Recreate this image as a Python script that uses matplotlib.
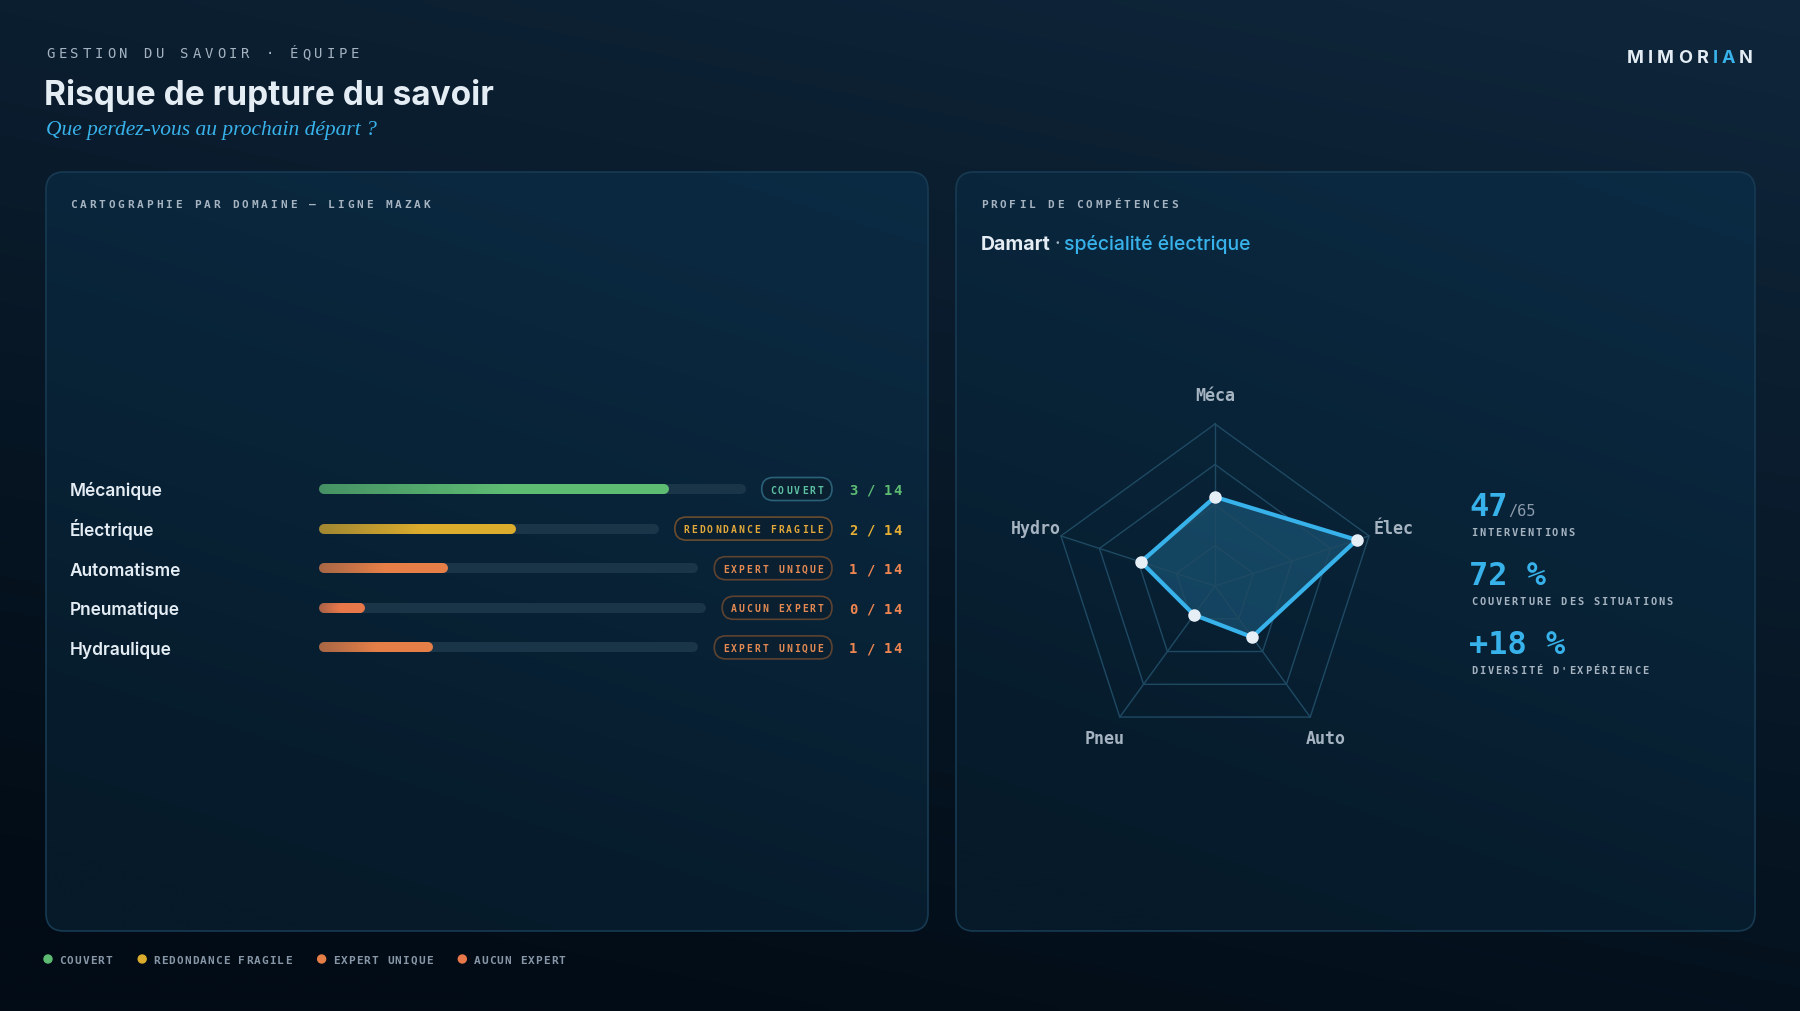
import numpy as np
import matplotlib.pyplot as plt
from matplotlib.patches import FancyBboxPatch, Circle
from matplotlib.collections import LineCollection
from matplotlib.colors import to_rgb
from matplotlib.font_manager import FontProperties

# ---- data ----
domains = ['Mécanique', 'Électrique', 'Automatisme', 'Pneumatique', 'Hydraulique']
coverage = [82, 58, 34, 12, 30]          # remplissage de la barre (%)
experts = [3, 2, 1, 0, 1]
team_size = 14
status = ['COUVERT', 'REDONDANCE FRAGILE', 'EXPERT UNIQUE', 'AUCUN EXPERT', 'EXPERT UNIQUE']

radar_axes = ['Méca', 'Élec', 'Auto', 'Pneu', 'Hydro']
profile = [55, 92, 39, 22, 48]
radar_levels = [25, 50, 75, 100]

interventions = 47
interventions_total = 65
situations_pct = 72
diversity_pct = 18

legend_order = ['COUVERT', 'REDONDANCE FRAGILE', 'EXPERT UNIQUE', 'AUCUN EXPERT']

# ---- styles ----
bar_color = {'COUVERT': '#5dbb72', 'REDONDANCE FRAGILE': '#dcac2c',
             'EXPERT UNIQUE': '#e67f47', 'AUCUN EXPERT': '#e8784a'}
value_color = {'COUVERT': '#5dbb72', 'REDONDANCE FRAGILE': '#e6ae35',
               'EXPERT UNIQUE': '#ef8550', 'AUCUN EXPERT': '#ef8550'}
badge_text = {'COUVERT': '#5cc0a2', 'REDONDANCE FRAGILE': '#e2a83a',
              'EXPERT UNIQUE': '#e48a52', 'AUCUN EXPERT': '#e48a52'}
badge_edge = {'COUVERT': '#2b6178', 'REDONDANCE FRAGILE': '#6a4c2e',
              'EXPERT UNIQUE': '#5e4330', 'AUCUN EXPERT': '#5e4330'}
BLUE = '#38b2ea'
GREY = '#a6b4c2'
WHITE = '#e4ecf4'
TRACK = '#1a3448'
MONO = 'DejaVu Sans Mono'
SANS = 'Inter'

W, H = 1800, 1012
fig = plt.figure(figsize=(18, 10.12), dpi=100)
bg = fig.add_axes([0, 0, 1, 1])
renderer = fig.canvas.get_renderer()


def gradient(extent, c_light, c_dark, clip=None, z=0):
    yy, xx = np.mgrid[0:1:120j, 0:1:200j]
    t = np.clip(yy * 0.8 + (1 - xx) * 0.3, 0, 1)[..., None]
    img = np.array(to_rgb(c_light)) * (1 - t) + np.array(to_rgb(c_dark)) * t
    im = bg.imshow(img, extent=extent, aspect='auto', interpolation='bicubic', zorder=z)
    if clip is not None:
        im.set_clip_path(clip)


def mono(x, y, s, fs, step, color, ha='left', weight='bold', va='baseline'):
    adv = 0.602 * fs * 100 / 72
    width = (len(s) - 1) * step + adv
    if ha == 'center':
        x -= width / 2
    elif ha == 'right':
        x -= width
    for i, ch in enumerate(s):
        bg.text(x + i * step, y, ch, fontsize=fs, family=MONO, color=color,
                ha='left', va=va, weight=weight, zorder=4)
    return width


# background
gradient((0, W, H, 0), '#0f263b', '#020c16')

# header
mono(46, 58, 'GESTION DU SAVOIR · ÉQUIPE', 10, 12.2, GREY, weight='normal')
bg.text(44, 105, 'Risque de rupture du savoir', fontsize=24, family=SANS, weight='bold',
        color=WHITE, va='baseline', zorder=4)
bg.text(46, 135, 'Que perdez-vous au prochain départ ?', fontsize=15.5, family='Liberation Serif',
        style='italic', color=BLUE, va='baseline', zorder=4)

# logo with tracking
logo = 'MIMORIAN'
fp = FontProperties(family=SANS, weight='bold', size=13)
widths = [renderer.get_text_width_height_descent(c, fp, ismath=False)[0] for c in logo]
track = (126 - sum(widths)) / (len(logo) - 1)
x = 1627
for i, c in enumerate(logo):
    bg.text(x, 63, c, fontproperties=fp, color=BLUE if i in (5, 6) else WHITE,
            va='baseline', zorder=4)
    x += widths[i] + track


# panels
def panel(x0, y0, x1, y1):
    p = FancyBboxPatch((x0, y0), x1 - x0, y1 - y0, boxstyle='round,pad=0,rounding_size=18',
                       facecolor='none', edgecolor='#173a52', lw=1.2, zorder=2)
    bg.add_patch(p)
    gradient((x0, x1, y1, y0), '#0b2b44', '#061a29', clip=p, z=1)


panel(46, 173, 928, 932)
panel(956, 173, 1755, 932)

mono(70, 208, 'CARTOGRAPHIE PAR DOMAINE — LIGNE MAZAK', 8, 9.55, GREY)
mono(981, 208, 'PROFIL DE COMPÉTENCES', 8, 9.5, GREY)

t1 = bg.text(981, 250, 'Damart', fontsize=14, family=SANS, weight='bold', color=WHITE,
             va='baseline', zorder=4)
w1 = t1.get_window_extent(renderer).width
t2 = bg.text(981 + w1 + 4, 250, '·', fontsize=14, family=SANS, color=GREY, va='baseline', zorder=4)
w2 = t2.get_window_extent(renderer).width
bg.text(981 + w1 + w2 + 8, 250, 'spécialité électrique', fontsize=14, family=SANS,
        weight='medium', color=BLUE, va='baseline', zorder=4)

# ---- domain rows ----
row_y0, row_gap = 490, 39.6
bar_x0, badge_right = 319, 832
badge_step = 7.9
for i, dom in enumerate(domains):
    yc = row_y0 + i * row_gap
    st = status[i]
    bg.text(70, yc + 6.5, dom, fontsize=12.5, family=SANS, weight='semibold', color=WHITE,
            va='baseline', zorder=4)

    bw = 15 + badge_step * len(st)
    bx = badge_right - bw
    badge = FancyBboxPatch((bx, yc - 11.5), bw, 23, boxstyle='round,pad=0,rounding_size=11.5',
                           facecolor='#0a1f30', edgecolor=badge_edge[st], lw=1.2, zorder=3)
    bg.add_patch(badge)
    mono(bx + bw / 2, yc + 3.6, st, 7, badge_step, badge_text[st], ha='center')
    mono(849, yc + 5, f'{experts[i]} / {team_size}', 10, 8.8, value_color[st])

    # bar axes spanning the track
    track_end = bx - 16
    track_len = track_end - bar_x0
    ax = fig.add_axes([bar_x0 / W, (H - yc - 10) / H, track_len / W, 20 / H])
    ax.set_xlim(0, 100)
    ax.set_ylim(-1, 1)
    ax.axis('off')
    pad = 5 / track_len * 100
    ax.plot([pad, 100 - pad], [0, 0], color=TRACK, lw=7.2, solid_capstyle='round')
    xs = np.linspace(pad, max(coverage[i] - pad, pad + 0.1), 60)
    segs = [[(xs[k], 0), (xs[k + 1], 0)] for k in range(len(xs) - 1)]
    frac = np.clip(np.linspace(0, 1, len(segs)) / 0.55, 0, 1)
    base = np.array(to_rgb(bar_color[st]))
    dark = base * 0.72 + np.array(to_rgb('#0c2a40')) * 0.28
    cols = [dark * (1 - f) + base * f for f in frac]
    lc = LineCollection(segs, colors=cols, linewidths=7.2, capstyle='round')
    ax.add_collection(lc)

# ---- radar ----
cx, cy, R = 1215, 587, 162
rax = fig.add_axes([(cx - R) / W, (H - cy - R) / H, 2 * R / W, 2 * R / H], projection='polar')
rax.set_theta_offset(np.pi / 2)
rax.set_theta_direction(-1)
rax.set_ylim(0, 100)
rax.axis('off')
theta = np.linspace(0, 2 * np.pi, len(radar_axes), endpoint=False)
th_c = np.append(theta, theta[0])
for lvl in radar_levels:
    rax.plot(th_c, [lvl] * len(th_c), color='#1f4a63', lw=1, clip_on=False)
for t in theta:
    rax.plot([t, t], [0, 100], color='#1f4a63', lw=1, clip_on=False)
vals = np.append(profile, profile[0])
rax.fill(th_c, vals, color=BLUE, alpha=0.25, lw=0)
rax.plot(th_c, vals, color=BLUE, lw=3, clip_on=False)
rax.plot(theta, profile, 'o', color='#e6eef6', markersize=8, clip_on=False, zorder=5)
for t, lbl in zip(theta, radar_axes):
    r_lbl = 118 if lbl == 'Méca' else 116
    rax.text(t, r_lbl, lbl, ha='center', va='center', fontsize=12, family=MONO,
             weight='bold', color=GREY)

# ---- stats ----
sx = 1471
t = bg.text(sx - 2, 516, f'{interventions}', fontsize=23, family=MONO, weight='bold',
            color=BLUE, va='baseline', zorder=4)
bg.text(sx - 2 + t.get_window_extent(renderer).width + 1, 516, f'/{interventions_total}',
        fontsize=11, family=MONO, color='#8c9cac', va='baseline', zorder=4)
mono(sx, 536, 'INTERVENTIONS', 7.5, 8.1, GREY)
bg.text(sx - 2, 585, f'{situations_pct} %', fontsize=23, family=MONO, weight='bold',
        color=BLUE, va='baseline', zorder=4)
mono(sx, 605, 'COUVERTURE DES SITUATIONS', 7.5, 8.15, GREY)
bg.text(sx - 2, 654, f'+{diversity_pct} %', fontsize=23, family=MONO, weight='bold',
        color=BLUE, va='baseline', zorder=4)
mono(sx, 674, "DIVERSITÉ D'EXPÉRIENCE", 7.5, 8.15, GREY)

# ---- legend ----
lx = 48
for st in legend_order:
    bg.add_patch(Circle((lx, 960), 4, color=bar_color[st], zorder=4))
    w = mono(lx + 11, 964, st, 8, 7.75, '#8797a7')
    lx += 11 + w + 30

bg.set_xlim(0, W)
bg.set_ylim(H, 0)
bg.axis('off')
fig.savefig('out.png', dpi=100)
